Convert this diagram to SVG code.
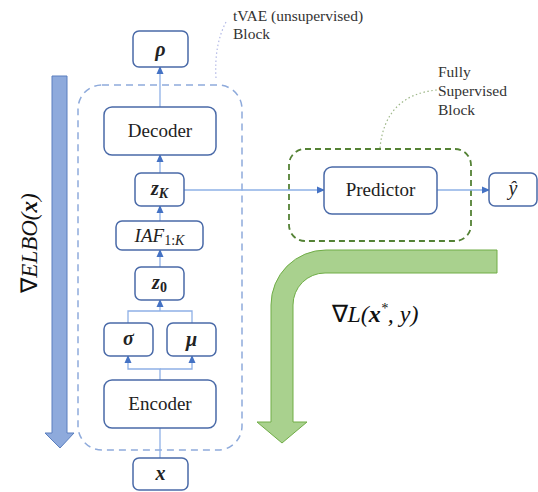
<svg xmlns="http://www.w3.org/2000/svg" width="538" height="492" viewBox="0 0 538 492">
<style>
text{font-family:"Liberation Serif","Times New Roman",serif}
.box{fill:#fff;stroke:#4a6aa8;stroke-width:1.5}
.lbl{font-size:19px;fill:#222;text-anchor:middle}
.math{font-style:italic;font-weight:bold;font-size:20px;fill:#222;text-anchor:middle}
.note{font-size:15.5px;fill:#333}
.conn{fill:none;stroke:#8eb0e6;stroke-width:1.3}
</style>
<defs>
<marker id="ah" markerWidth="8" markerHeight="8" refX="7" refY="4" orient="auto" markerUnits="userSpaceOnUse">
<path d="M0,0.5 L8,4 L0,7.5 Z" fill="#4472c4"/>
</marker>
</defs>
<rect width="538" height="492" fill="#fff"/>
<g id="elbo-arrow">
<path d="M52,76 H67 V433 H74 L60,448 L45,433 H52 Z" fill="#8eaadc" stroke="#5b7fbf" stroke-width="1"/>
<text transform="translate(37,243) rotate(-90)" font-style="italic" font-size="23" fill="#111" text-anchor="middle"><tspan font-style="normal">∇</tspan>ELBO(<tspan font-weight="bold">x</tspan>)</text>
</g>
<g id="loss-arrow">
<path d="M497,250 V273 H325 A32,32 0 0 0 293,305 V422 H307 L282,443 L257,422 H271 V305 A55,55 0 0 1 326,250 Z" fill="#a9d18e" stroke="#70ad47" stroke-width="1"/>
<text x="375" y="322" font-style="italic" font-size="24" fill="#111" text-anchor="middle"><tspan font-style="normal">∇</tspan>L(<tspan font-weight="bold">x</tspan><tspan font-size="14" dy="-9">*</tspan><tspan dy="9">, y)</tspan></text>
</g>
<g id="tvae-block">
<rect x="78" y="85" width="164" height="365" rx="24" fill="none" stroke="#8eaadb" stroke-width="1.5" stroke-dasharray="7,5"/>
<path d="M216,78 Q214,45 226,22" fill="none" stroke="#b3b9e6" stroke-width="1.2" stroke-dasharray="1.5,2.5"/>
<text class="note" x="233" y="21">tVAE (unsupervised)</text>
<text class="note" x="233" y="39">Block</text>
</g>
<g id="supervised-block">
<rect x="289" y="149" width="182" height="92" rx="16" fill="none" stroke="#548235" stroke-width="1.8" stroke-dasharray="6,4"/>
<path d="M380,148 Q385,95 437,90" fill="none" stroke="#9fb88a" stroke-width="1.2" stroke-dasharray="1.5,2.5"/>
<text class="note" x="438" y="77">Fully</text>
<text class="note" x="438" y="96">Supervised</text>
<text class="note" x="438" y="115">Block</text>
</g>
<g id="connectors">
<path class="conn" d="M160,458 V380" marker-end="url(#ah)"/>
<path class="conn" d="M160,380 V369 H128 V356" marker-end="url(#ah)"/>
<path class="conn" d="M160,369 H192 V356" marker-end="url(#ah)"/>
<path class="conn" d="M128,323 V311 H192 V323"/>
<path class="conn" d="M160,311 V300" marker-end="url(#ah)"/>
<path class="conn" d="M160,267 V250" marker-end="url(#ah)"/>
<path class="conn" d="M160,221 V206" marker-end="url(#ah)"/>
<path class="conn" d="M160,173 V155" marker-end="url(#ah)"/>
<path class="conn" d="M160,107 V67" marker-end="url(#ah)"/>
<path class="conn" d="M184,190 H324" marker-end="url(#ah)"/>
<path class="conn" d="M437,190 H489" marker-end="url(#ah)"/>
</g>
<g id="rho"><rect class="box" x="133" y="31" width="55" height="36" rx="6"/><text class="math" x="160.5" y="56">ρ</text></g>
<g id="decoder"><rect class="box" x="104" y="107" width="112" height="48" rx="8"/><text class="lbl" x="160" y="137">Decoder</text></g>
<g id="zK"><rect class="box" x="135" y="173" width="49" height="33" rx="6"/><text class="math" x="159.5" y="195">z<tspan font-size="14" dy="3">K</tspan></text></g>
<g id="iaf"><rect class="box" x="116" y="221" width="87" height="29" rx="6"/><text x="159.5" y="242" font-style="italic" font-size="19" fill="#222" text-anchor="middle">IAF<tspan font-size="14" dy="3" font-style="normal">1:</tspan><tspan font-size="14">K</tspan></text></g>
<g id="z0"><rect class="box" x="135" y="267" width="49" height="33" rx="6"/><text class="math" x="159.5" y="289">z<tspan font-size="14" dy="3" font-style="normal">0</tspan></text></g>
<g id="sigma"><rect class="box" x="104" y="323" width="49" height="33" rx="6"/><text class="math" x="128.5" y="345">σ</text></g>
<g id="mu"><rect class="box" x="167" y="323" width="49" height="33" rx="6"/><text class="math" x="191.5" y="346">μ</text></g>
<g id="encoder"><rect class="box" x="104" y="380" width="112" height="48" rx="8"/><text class="lbl" x="160" y="410">Encoder</text></g>
<g id="x"><rect class="box" x="133" y="458" width="55" height="32" rx="6"/><text class="math" x="160.5" y="480">x</text></g>
<g id="predictor"><rect class="box" x="324" y="167" width="113" height="47" rx="8"/><text class="lbl" x="380.5" y="196">Predictor</text></g>
<g id="yhat"><rect class="box" x="489" y="173" width="48" height="33" rx="6"/><text x="513" y="195" font-style="italic" font-size="20" fill="#222" text-anchor="middle">ŷ</text></g>
</svg>
